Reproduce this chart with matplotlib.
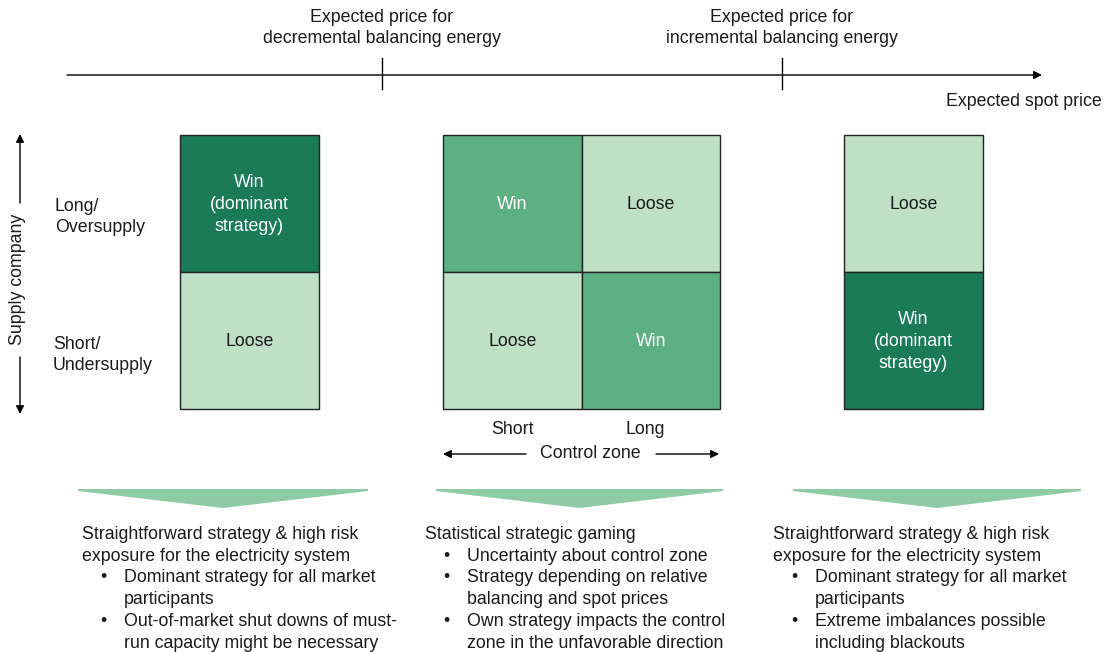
import matplotlib
matplotlib.use("Agg")
import matplotlib.pyplot as plt
from matplotlib.patches import Rectangle, Polygon

plt.rcParams['font.family'] = ['Liberation Sans', 'DejaVu Sans']

# ---- content ----
price_marks = ["Expected price for\ndecremental balancing energy",
               "Expected price for\nincremental balancing energy"]
axis_label = "Expected spot price"
supply_rows = ["Long/\nOversupply", "Short/\nUndersupply"]
supply_label = "Supply company"
zone_cols = ["Short", "Long"]
zone_label = "Control zone"

left_cells = [("Win\n(dominant\nstrategy)", "dark"), ("Loose", "light")]
mid_cells = [[("Win", "mid"), ("Loose", "light")],
             [("Loose", "light"), ("Win", "mid")]]
right_cells = [("Loose", "light"), ("Win\n(dominant\nstrategy)", "dark")]

titles = ["Straightforward strategy & high risk\nexposure for the electricity system",
          "Statistical strategic gaming",
          "Straightforward strategy & high risk\nexposure for the electricity system"]
bullets = [["Dominant strategy for all market\nparticipants",
            "Out-of-market shut downs of must-\nrun capacity might be necessary"],
           ["Uncertainty about control zone",
            "Strategy depending on relative\nbalancing and spot prices",
            "Own strategy impacts the control\nzone in the unfavorable direction"],
           ["Dominant strategy for all market\nparticipants",
            "Extreme imbalances possible\nincluding blackouts"]]

colors = {"dark": "#1b7a57", "mid": "#5cb084", "light": "#bde0c6"}
text_colors = {"dark": "white", "mid": "white", "light": "#1a1a1a"}
tri_color = "#8ecba4"

W, H = 1105, 652
fig = plt.figure(figsize=(W / 100, H / 100), dpi=100)
ax = fig.add_axes([0, 0, 1, 1])
ax.set_xlim(0, W)
ax.set_ylim(H, 0)
ax.axis("off")

FS = 12.8
TXT = "#1a1a1a"
LS = 1.38
BO = 5  # baseline offset from visual centre (px)

arrow_kw = dict(arrowstyle="-|>", color="black", lw=1.0,
                mutation_scale=12, shrinkA=0, shrinkB=0)

# top axis
ax.annotate("", xy=(1042, 75), xytext=(67, 75), arrowprops=arrow_kw)
for xt, lab in zip([382, 782], price_marks):
    ax.plot([xt, xt], [58, 89], color="black", lw=1.0)
    ax.text(xt, 28, lab, ha="center", va="center", fontsize=FS, color=TXT,
            linespacing=1.3)
ax.text(1102, 101 + BO, axis_label, ha="right", va="baseline", fontsize=FS, color=TXT)

# grid geometry
top, mid_y, bot = 135, 272, 410
cw = 138.5


def cell(x, y, w, h, text, shade):
    ax.add_patch(Rectangle((x, y), w, h, facecolor=colors[shade],
                           edgecolor="#222222", lw=1.0))
    ax.text(x + w / 2, y + h / 2 + 1, text, ha="center", va="center",
            fontsize=FS, color=text_colors[shade], linespacing=LS)


for r, (t, s) in enumerate(left_cells):
    cell(180, top + r * (mid_y - top), cw, mid_y - top, t, s)
for r in range(2):
    for c in range(2):
        t, s = mid_cells[r][c]
        cell(443 + c * cw, top + r * (mid_y - top), cw, mid_y - top, t, s)
for r, (t, s) in enumerate(right_cells):
    cell(844, top + r * (mid_y - top), cw, mid_y - top, t, s)

# supply labels
ax.text(55, 217, supply_rows[0], ha="left", va="center", fontsize=FS,
        color=TXT, linespacing=1.3)
ax.text(53, 355, supply_rows[1], ha="left", va="center", fontsize=FS,
        color=TXT, linespacing=1.3)
ax.text(18, 279, supply_label, ha="center", va="center", rotation=90,
        fontsize=FS, color=TXT)
ax.annotate("", xy=(20, 134), xytext=(20, 203), arrowprops=arrow_kw)
ax.annotate("", xy=(20, 414), xytext=(20, 357), arrowprops=arrow_kw)

# control zone labels
ax.text(512, 429 + BO, zone_cols[0], ha="center", va="baseline", fontsize=FS, color=TXT)
ax.text(645, 429 + BO, zone_cols[1], ha="center", va="baseline", fontsize=FS, color=TXT)
ax.text(590, 453 + BO, zone_label, ha="center", va="baseline", fontsize=FS, color=TXT)
ax.annotate("", xy=(443, 454), xytext=(526, 454), arrowprops=arrow_kw)
ax.annotate("", xy=(719, 454), xytext=(656, 454), arrowprops=arrow_kw)

# triangles
for x0, x1 in [(78, 368), (436, 723), (793, 1081)]:
    xc = (x0 + x1) / 2
    ax.add_patch(Polygon([(x0, 489), (x1, 489), (x1, 491), (xc, 508), (x0, 491)],
                         closed=True, facecolor=tri_color, edgecolor="none"))

# text blocks
for x0, title, bl in zip([82, 425, 773], titles, bullets):
    y = 534
    for line in title.split("\n"):
        ax.text(x0, y + BO, line, ha="left", va="baseline", fontsize=FS, color=TXT)
        y += 21.7
    for b in bl:
        ax.text(x0 + 21, y + BO, "\u2022", ha="center", va="baseline", fontsize=FS, color=TXT)
        for line in b.split("\n"):
            ax.text(x0 + 42, y + BO, line, ha="left", va="baseline", fontsize=FS, color=TXT)
            y += 21.7

fig.savefig("out.png", dpi=100)
